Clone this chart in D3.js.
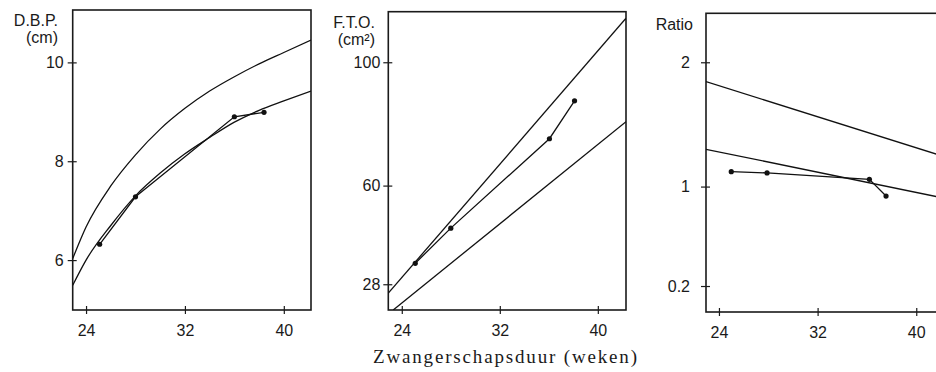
<!DOCTYPE html>
<html>
<head>
<meta charset="utf-8">
<script src="https://cdn.jsdelivr.net/npm/d3@7"></script>
<style>
body { margin: 0; background: #fff; }
svg { display: block; }
text { font-family: "Liberation Sans", Arial, sans-serif; font-size: 16px; fill: #1a1a1a; }
</style>
</head>
<body>
<script>
var xTicks = [24, 32, 40];

// D.B.P. (cm)
var dbpTicks = [6, 8, 10];
var dbpCurveWeeks = [22.92, 24, 26, 28, 30, 32, 34, 36, 38, 40, 42.2];
var dbpUpper = [6.03, 6.67, 7.5, 8.13, 8.65, 9.07, 9.42, 9.71, 9.97, 10.2, 10.45];
var dbpLower = [5.49, 6.0, 6.7, 7.3, 7.76, 8.15, 8.48, 8.79, 9.03, 9.22, 9.42];
var dbpWeeks = [25.1, 28.0, 36.0, 38.4];
var dbpValues = [6.32, 7.28, 8.9, 8.99];

// F.T.O. (cm2)
var ftoTicks = [28, 60, 100];
var ftoUpperWeeks = [22.9, 42.3];
var ftoUpper = [25.1, 114.3];
var ftoLowerWeeks = [23.3, 42.3];
var ftoLower = [19.65, 80.7];
var ftoWeeks = [25.1, 28.0, 36.05, 38.1];
var ftoValues = [34.8, 46.2, 75.2, 87.5];

// Ratio
var ratioTicks = [0.2, 1, 2];
var ratioLineWeeks = [22.95, 42.25];
var ratioUpper = [1.844, 1.242];
var ratioLower = [1.30, 0.907];
var ratioWeeks = [25.0, 27.9, 36.2, 37.55];
var ratioValues = [1.12, 1.11, 1.058, 0.924];

function zip(xs, ys) {
    return xs.map(function (x, i) { return [x, ys[i]]; });
}

var panels = [
    {
        left: 72.7, right: 311, top: 10, bottom: 310,
        xDomain: [22.92, 42.2], yDomain: [4.99, 11.06],
        ticks: dbpTicks, labelGap: 4,
        titles: [['D.B.P.', 25.5], ['(cm)', 43.3]], titleRight: 58,
        lines: [
            { pts: zip(dbpCurveWeeks, dbpUpper), smooth: true },
            { pts: zip(dbpCurveWeeks, dbpLower), smooth: true },
            { pts: zip(dbpWeeks, dbpValues), smooth: false }
        ],
        points: zip(dbpWeeks, dbpValues)
    },
    {
        left: 388.3, right: 626, top: 11.7, bottom: 310,
        xDomain: [22.9, 42.3], yDomain: [19.65, 116.4],
        ticks: ftoTicks, labelGap: 3,
        titles: [['F.T.O.', 28], ['(cm\u00B2)', 45]], titleRight: 375,
        lines: [
            { pts: zip(ftoUpperWeeks, ftoUpper), smooth: false },
            { pts: zip(ftoLowerWeeks, ftoLower), smooth: false },
            { pts: zip(ftoWeeks, ftoValues), smooth: false }
        ],
        points: zip(ftoWeeks, ftoValues)
    },
    {
        left: 706, right: 944, top: 13.3, bottom: 312,
        xDomain: [22.95, 42.25], yDomain: [-0.009, 2.394],
        ticks: ratioTicks, labelGap: 11,
        titles: [['Ratio', 30]], titleRight: 693,
        lines: [
            { pts: zip(ratioLineWeeks, ratioUpper), smooth: false },
            { pts: zip(ratioLineWeeks, ratioLower), smooth: false },
            { pts: zip(ratioWeeks, ratioValues), smooth: false }
        ],
        points: zip(ratioWeeks, ratioValues)
    }
];

var svg = d3.select('body')
            .append('svg')
            .attr('width', 936)
            .attr('height', 372);

panels.forEach(function (p, k) {
    var x = d3.scaleLinear().domain(p.xDomain).range([p.left, p.right]);
    var y = d3.scaleLinear().domain(p.yDomain).range([p.bottom, p.top]);

    svg.append('clipPath')
        .attr('id', 'clip' + k)
        .append('rect')
        .attr('x', p.left).attr('y', p.top)
        .attr('width', p.right - p.left)
        .attr('height', p.bottom - p.top);

    // y axis
    var yAxis = svg.append('g')
        .attr('transform', 'translate(' + p.left + ',0)')
        .call(d3.axisLeft(y)
            .tickValues(p.ticks)
            .tickSize(5)
            .tickPadding(p.labelGap)
            .tickFormat(function (d) { return String(d); }));
    yAxis.select('.domain').remove();
    yAxis.selectAll('.tick line').attr('x1', 4).attr('stroke', '#1a1a1a').attr('stroke-width', 1.2);
    yAxis.selectAll('text').attr('font-size', 16).attr('font-family', null).style('fill', '#1a1a1a');

    // x axis
    var xAxis = svg.append('g')
        .attr('transform', 'translate(0,' + p.bottom + ')')
        .call(d3.axisBottom(x)
            .tickValues(xTicks)
            .tickSize(4)
            .tickPadding(11)
            .tickFormat(function (d) { return String(d); }));
    xAxis.select('.domain').remove();
    xAxis.selectAll('.tick line').attr('y1', -4).attr('stroke', '#1a1a1a').attr('stroke-width', 1.2);
    xAxis.selectAll('text').attr('font-size', 16).attr('font-family', null).style('fill', '#1a1a1a');

    // frame
    svg.append('rect')
        .attr('x', p.left).attr('y', p.top)
        .attr('width', p.right - p.left)
        .attr('height', p.bottom - p.top)
        .attr('fill', 'none')
        .attr('stroke', '#1a1a1a')
        .attr('stroke-width', 1.6);

    // y titles
    p.titles.forEach(function (t) {
        svg.append('text')
            .attr('x', p.titleRight)
            .attr('y', t[1])
            .attr('text-anchor', 'end')
            .text(t[0]);
    });

    var g = svg.append('g').attr('clip-path', 'url(#clip' + k + ')');
    p.lines.forEach(function (l) {
        var line = d3.line()
            .x(function (d) { return x(d[0]); })
            .y(function (d) { return y(d[1]); })
            .curve(l.smooth ? d3.curveMonotoneX : d3.curveLinear);
        g.append('path')
            .datum(l.pts)
            .attr('d', line)
            .attr('fill', 'none')
            .attr('stroke', '#111')
            .attr('stroke-width', 1.3);
    });

    g.selectAll('circle.pt')
        .data(p.points)
        .enter()
        .append('circle')
        .attr('class', 'pt')
        .attr('cx', function (d) { return x(d[0]); })
        .attr('cy', function (d) { return y(d[1]); })
        .attr('r', 2.6)
        .attr('fill', '#111');
});

svg.append('text')
    .attr('x', 505)
    .attr('y', 363)
    .attr('text-anchor', 'middle')
    .attr('textLength', 264)
    .attr('lengthAdjust', 'spacing')
    .style('font-family', '"Liberation Serif", "Times New Roman", serif')
    .style('font-size', '19px')
    .text('Zwangerschapsduur (weken)');
</script>
</body>
</html>
